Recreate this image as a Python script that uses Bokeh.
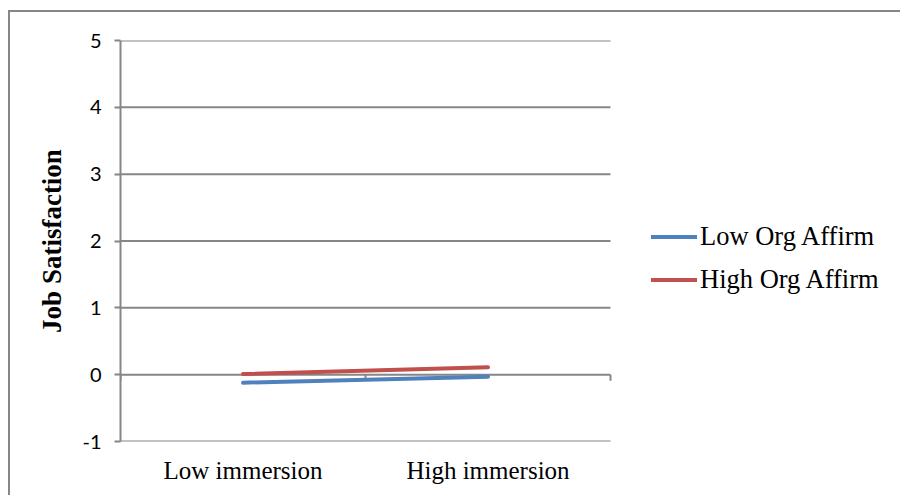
from bokeh.plotting import figure
from bokeh.models import Range1d, FixedTicker
from bokeh.embed import file_html
from bokeh.resources import INLINE

# Simple-slopes data: job satisfaction by immersion level for two affirmation groups
categories = ["Low immersion", "High immersion"]
cat_pos = [0.5, 1.5]
low_org_affirm = [-0.12, -0.03]
high_org_affirm = [0.01, 0.11]
y_ticks = [-1, 0, 1, 2, 3, 4, 5]
x_bounds = [0, 1, 2]  # category boundaries

GRID = "#868686"
BLUE = "#4F81BD"
RED = "#C0504D"

# The frame spans the plot area plus the legend area to the right of it;
# the plot area itself covers x in [0, 2].
W, H = 892, 485
LEFT, RIGHT, TOP, BOTTOM = 110, 10, 28, 56
PLOT_PX = 490
frame_px = W - LEFT - RIGHT
x_end = x_bounds[-1] * frame_px / PLOT_PX

p = figure(width=W, height=H, output_backend="svg", toolbar_location=None,
           x_range=Range1d(0, x_end), y_range=Range1d(-1, 5),
           min_border_left=LEFT, min_border_right=RIGHT,
           min_border_top=TOP, min_border_bottom=BOTTOM)
# chart-area border (top and left edges; the rest runs off the page)
p.styles = {"margin-left": "8px", "margin-top": "10px",
            "border-left": f"2px solid {GRID}", "border-top": f"2px solid {GRID}"}
p.outline_line_color = None
p.background_fill_color = "white"
p.border_fill_color = "white"
p.xgrid.visible = False
p.ygrid.visible = False

# horizontal gridlines across the plot area (0 doubles as the category axis)
p.segment(x0=[x_bounds[0]] * len(y_ticks), y0=y_ticks,
          x1=[x_bounds[-1]] * len(y_ticks), y1=y_ticks,
          line_color=GRID, line_width=2)

# tick marks on the category axis at y = 0
tick_len = 0.09
p.segment(x0=x_bounds, y0=[0] * 3, x1=x_bounds, y1=[-tick_len] * 3,
          line_color=GRID, line_width=2)

# value axis
p.yaxis.ticker = FixedTicker(ticks=y_ticks)
p.yaxis.major_label_overrides = {t: str(t) for t in y_ticks}
p.yaxis.axis_line_color = GRID
p.yaxis.axis_line_width = 2
p.yaxis.major_tick_line_color = GRID
p.yaxis.major_tick_line_width = 2
p.yaxis.major_tick_out = 6
p.yaxis.major_tick_in = 0
p.yaxis.minor_tick_line_color = None
p.yaxis.major_label_text_font = "Lato"
p.yaxis.major_label_text_font_size = "20px"
p.yaxis.major_label_text_color = "black"
p.yaxis.major_label_standoff = 13
p.yaxis.axis_label = "Job Satisfaction"
p.yaxis.axis_label_text_font = "Liberation Serif"
p.yaxis.axis_label_text_font_style = "bold"
p.yaxis.axis_label_text_font_size = "27px"
p.yaxis.axis_label_text_color = "black"
p.yaxis.axis_label_standoff = 12

# category labels along the bottom
p.xaxis.ticker = FixedTicker(ticks=cat_pos)
p.xaxis.major_label_overrides = {pos: name for pos, name in zip(cat_pos, categories)}
p.xaxis.axis_line_color = None
p.xaxis.major_tick_line_color = None
p.xaxis.minor_tick_line_color = None
p.xaxis.major_label_text_font = "Liberation Serif"
p.xaxis.major_label_text_font_size = "25px"
p.xaxis.major_label_text_color = "black"
p.xaxis.major_label_standoff = 9

# the two series
p.line(cat_pos, low_org_affirm, line_color=BLUE, line_width=4, line_cap="round",
       legend_label="Low Org Affirm")
p.line(cat_pos, high_org_affirm, line_color=RED, line_width=4, line_cap="round",
       legend_label="High Org Affirm")

lg = p.legend[0]
lg.location = (531, 146)
lg.glyph_width = 46
lg.glyph_height = 29
lg.label_height = 29
lg.spacing = 12
lg.padding = 0
lg.margin = 0
lg.label_standoff = 3
lg.border_line_color = None
lg.background_fill_alpha = 0
lg.label_text_font = "Liberation Serif"
lg.label_text_font_size = "26.5px"
lg.label_text_color = "black"

open("out.html", "w").write(file_html(p, INLINE))
